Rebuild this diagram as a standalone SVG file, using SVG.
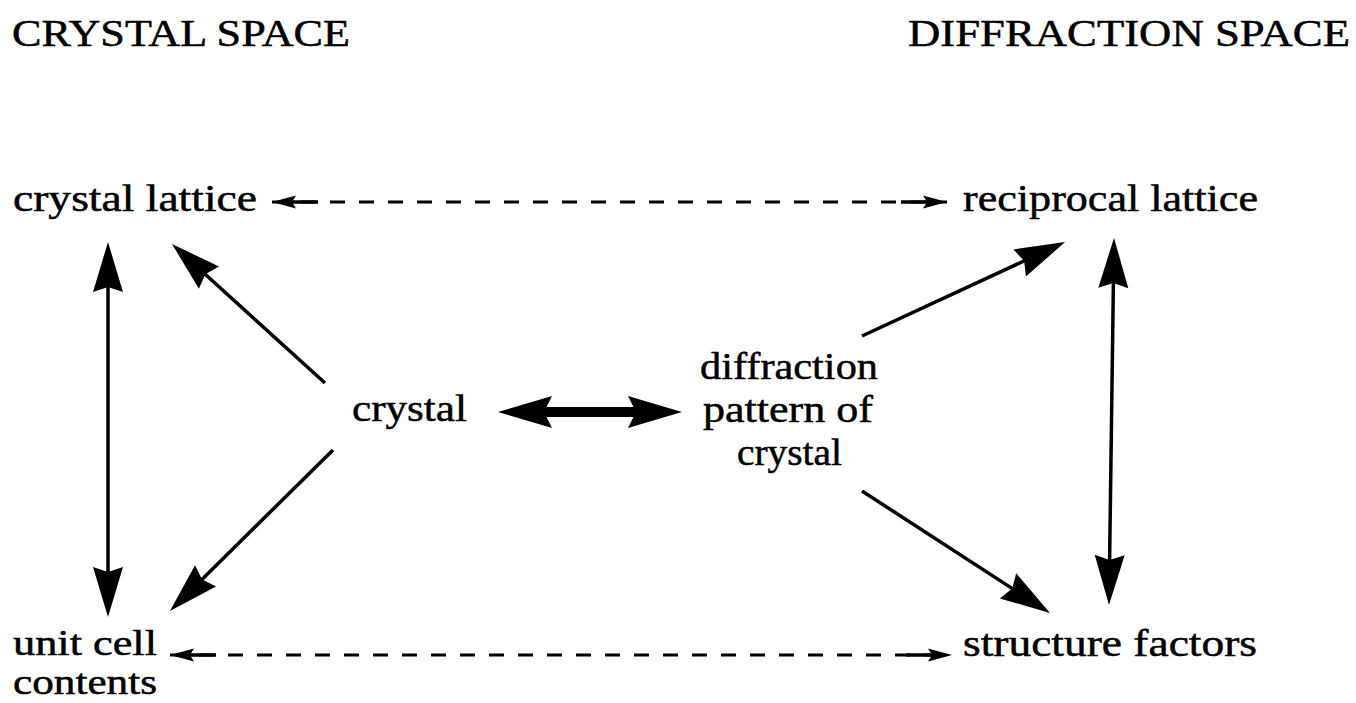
<svg xmlns="http://www.w3.org/2000/svg" width="1356" height="703" viewBox="0 0 1356 703">
<style>
text{font-family:"Liberation Serif","Times New Roman",serif;font-size:38px;fill:#000;stroke:#000;stroke-width:0.5}
.s{font-size:35px}
.c{stroke:#000;stroke-width:3.5;fill:none}
.thick{stroke:#000;stroke-width:10;fill:none}
.dash{stroke:#000;stroke-width:3.2;fill:none;stroke-dasharray:15 14}
</style>
<defs>
<marker id="big" markerUnits="userSpaceOnUse" markerWidth="50" markerHeight="30" viewBox="0 0 50 30" refX="20" refY="15" orient="auto-start-reverse" overflow="visible">
<path d="M0,0 L50,15 L0,30 L5,15 Z" fill="#000"/>
</marker>
<marker id="fat" markerUnits="userSpaceOnUse" markerWidth="54" markerHeight="32" viewBox="0 0 54 32" refX="24" refY="16" orient="auto-start-reverse" overflow="visible">
<path d="M0,0 L54,16 L0,32 L8,16 Z" fill="#000"/>
</marker>
<marker id="small" markerUnits="userSpaceOnUse" markerWidth="46" markerHeight="13" viewBox="0 0 46 13" refX="46" refY="6.5" orient="auto-start-reverse" overflow="visible">
<path d="M0,4.8 L25,4.8 L22,0 L46,6.5 L22,13 L25,8.2 L0,8.2 Z" fill="#000"/>
</marker>
</defs>
<g id="title-crystal-space"><text x="12" y="46" textLength="338" lengthAdjust="spacingAndGlyphs">CRYSTAL SPACE</text></g>
<g id="title-diffraction-space"><text x="908" y="46" textLength="442" lengthAdjust="spacingAndGlyphs">DIFFRACTION SPACE</text></g>
<g id="node-crystal-lattice"><text x="13" y="211" textLength="244" lengthAdjust="spacingAndGlyphs">crystal lattice</text></g>
<g id="node-reciprocal-lattice"><text x="963" y="211" textLength="295" lengthAdjust="spacingAndGlyphs">reciprocal lattice</text></g>
<g id="node-crystal"><text x="352" y="421" textLength="115" lengthAdjust="spacingAndGlyphs">crystal</text></g>
<g id="node-diffraction-pattern">
<text x="700" y="379" textLength="178" lengthAdjust="spacingAndGlyphs">diffraction</text>
<text x="703" y="422" textLength="170" lengthAdjust="spacingAndGlyphs">pattern of</text>
<text x="737" y="465" textLength="105" lengthAdjust="spacingAndGlyphs">crystal</text>
</g>
<g id="node-unit-cell">
<text class="s" x="13" y="655" textLength="144" lengthAdjust="spacingAndGlyphs">unit cell</text>
<text class="s" x="13" y="694" textLength="144" lengthAdjust="spacingAndGlyphs">contents</text>
</g>
<g id="node-structure-factors"><text x="963" y="656" textLength="294" lengthAdjust="spacingAndGlyphs">structure factors</text></g>
<g id="connectors">
<line class="dash" x1="272" y1="202" x2="947" y2="202" marker-start="url(#small)" marker-end="url(#small)"/>
<line class="dash" x1="170" y1="655" x2="952" y2="655" marker-start="url(#small)" marker-end="url(#small)"/>
<line class="c" x1="108" y1="272" x2="108" y2="587" marker-start="url(#big)" marker-end="url(#big)"/>
<line class="c" x1="1113.6" y1="268" x2="1109.4" y2="575" marker-start="url(#big)" marker-end="url(#big)"/>
<line class="c" x1="325" y1="383" x2="194.2" y2="264.2" marker-end="url(#big)"/>
<line class="c" x1="333" y1="450" x2="191.3" y2="589.9" marker-end="url(#big)"/>
<line class="c" x1="862" y1="336" x2="1037.8" y2="254.6" marker-end="url(#big)"/>
<line class="c" x1="862" y1="491" x2="1024.8" y2="596.7" marker-end="url(#big)"/>
<line class="thick" x1="528" y1="412" x2="652" y2="412" marker-start="url(#fat)" marker-end="url(#fat)"/>
</g>
</svg>
